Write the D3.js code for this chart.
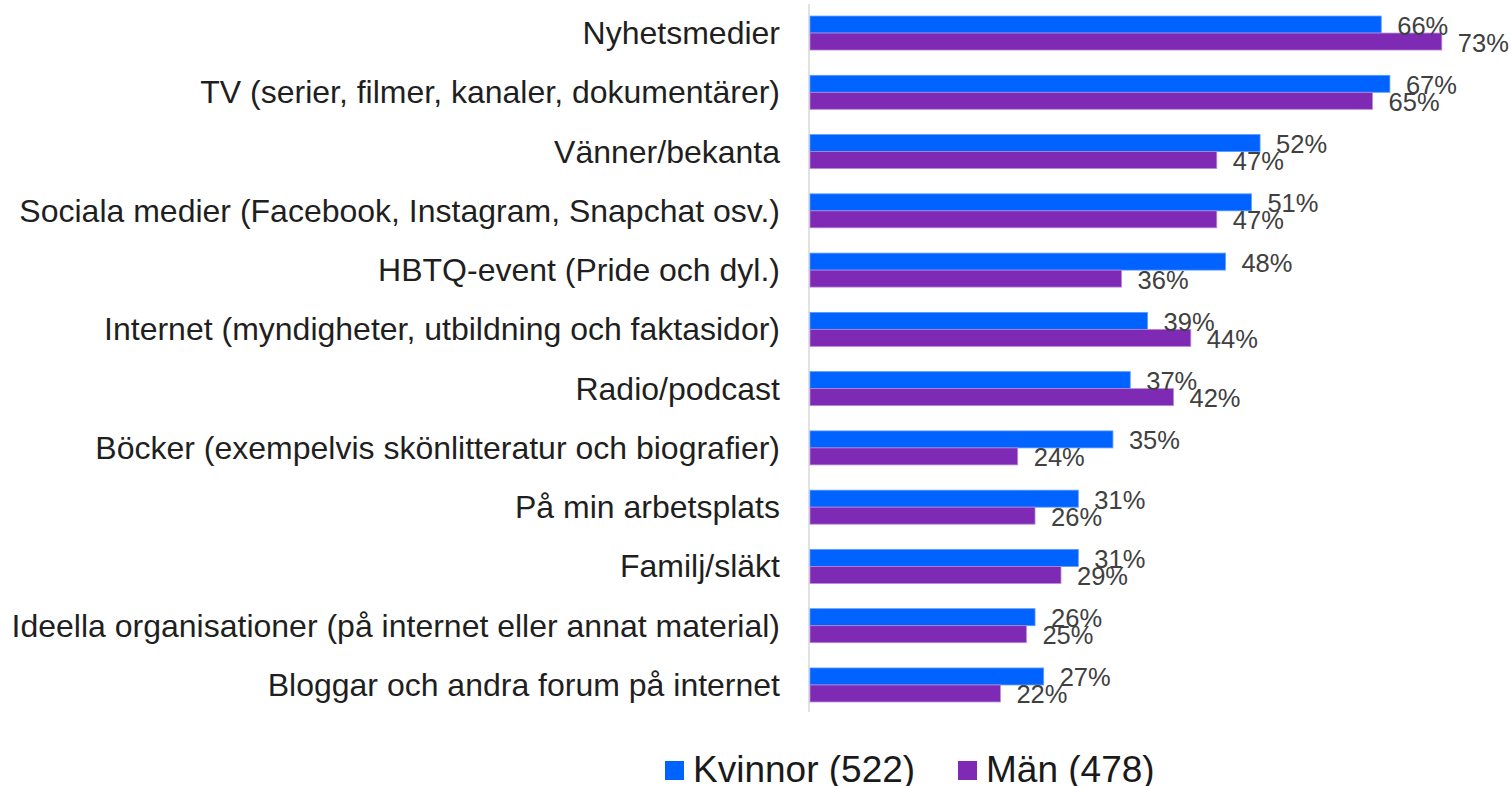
<!DOCTYPE html>
<html>
<head>
<meta charset="utf-8">
<script src="https://cdn.jsdelivr.net/npm/d3@7"></script>
<style>
  html, body { margin: 0; padding: 0; background: #fff; }
  svg { display: block; font-family: "Liberation Sans", Arial, sans-serif; }
</style>
</head>
<body>
<div id="chart"></div>
<script>
var categories = [
  'Nyhetsmedier',
  'TV (serier, filmer, kanaler, dokumentärer)',
  'Vänner/bekanta',
  'Sociala medier (Facebook, Instagram, Snapchat osv.)',
  'HBTQ-event (Pride och dyl.)',
  'Internet (myndigheter, utbildning och faktasidor)',
  'Radio/podcast',
  'Böcker (exempelvis skönlitteratur och biografier)',
  'På min arbetsplats',
  'Familj/släkt',
  'Ideella organisationer (på internet eller annat material)',
  'Bloggar och andra forum på internet'
];
var seriesNames = ['Kvinnor (522)', 'Män (478)'];
var kvinnor = [66, 67, 52, 51, 48, 39, 37, 35, 31, 31, 26, 27];
var man = [73, 65, 47, 47, 36, 44, 42, 24, 26, 29, 25, 22];
var colors = ['#0062ff', '#7f2ab5'];
var edges = ['#5d9bff', '#b78ad8'];

var w = 1511;
var h = 786;

var svg = d3.select('#chart')
  .append('svg')
  .attr('width', w)
  .attr('height', h);

var x = d3.scaleLinear().domain([0, 100]).range([810, 810 + 865.5]);
var y = d3.scaleBand().domain(categories).range([3.4, 714.6]);
var barH = 17;
var groupOffset = (y.bandwidth() - 2 * barH) / 2;

// axis line
svg.append('line')
  .attr('x1', 809).attr('x2', 809)
  .attr('y1', 4).attr('y2', 712)
  .attr('stroke', '#d9d9d9')
  .attr('stroke-width', 1.5);

var rows = categories.map(function (c, i) {
  return { cat: c, vals: [kvinnor[i], man[i]] };
});

var g = svg.selectAll('g.row')
  .data(rows).enter()
  .append('g')
  .attr('class', 'row')
  .attr('transform', function (d) { return 'translate(0,' + (y(d.cat) + groupOffset) + ')'; });

g.selectAll('rect')
  .data(function (d) { return d.vals; }).enter()
  .append('rect')
  .attr('x', x(0))
  .attr('y', function (d, i) { return i * barH; })
  .attr('width', function (d) { return x(d) - x(0); })
  .attr('height', barH)
  .attr('fill', function (d, i) { return colors[i]; })
  .attr('stroke', function (d, i) { return edges[i]; })
  .attr('stroke-width', 0.8);

// value labels sit 16px past the bar end (they overlap in the original too)
g.selectAll('text.val')
  .data(function (d) { return d.vals; }).enter()
  .append('text')
  .attr('class', 'val')
  .attr('x', function (d) { return x(d) + 16; })
  .attr('y', function (d, i) { return i * barH + barH / 2 + 1; })
  .attr('dominant-baseline', 'central')
  .attr('font-size', 25.5)
  .attr('fill', '#404040')
  .text(function (d) { return d + '%'; });

// category labels
svg.selectAll('text.cat')
  .data(categories).enter()
  .append('text')
  .attr('class', 'cat')
  .attr('x', 780)
  .attr('y', function (d) { return y(d) + y.bandwidth() / 2; })
  .attr('text-anchor', 'end')
  .attr('dominant-baseline', 'central')
  .attr('font-size', 32)
  .attr('fill', '#1f1f1f')
  .text(function (d) { return d; });

// legend
var legendX = [665, 958];
var legend = svg.selectAll('g.legend')
  .data(seriesNames).enter()
  .append('g')
  .attr('class', 'legend')
  .attr('transform', function (d, i) { return 'translate(' + legendX[i] + ',0)'; });

legend.append('rect')
  .attr('x', 0).attr('y', 761)
  .attr('width', 19).attr('height', 19)
  .attr('fill', function (d, i) { return colors[i]; });

legend.append('text')
  .attr('x', 28)
  .attr('y', 782)
  .attr('font-size', 37)
  .attr('fill', '#1a1a1a')
  .text(function (d) { return d; });
</script>
</body>
</html>
